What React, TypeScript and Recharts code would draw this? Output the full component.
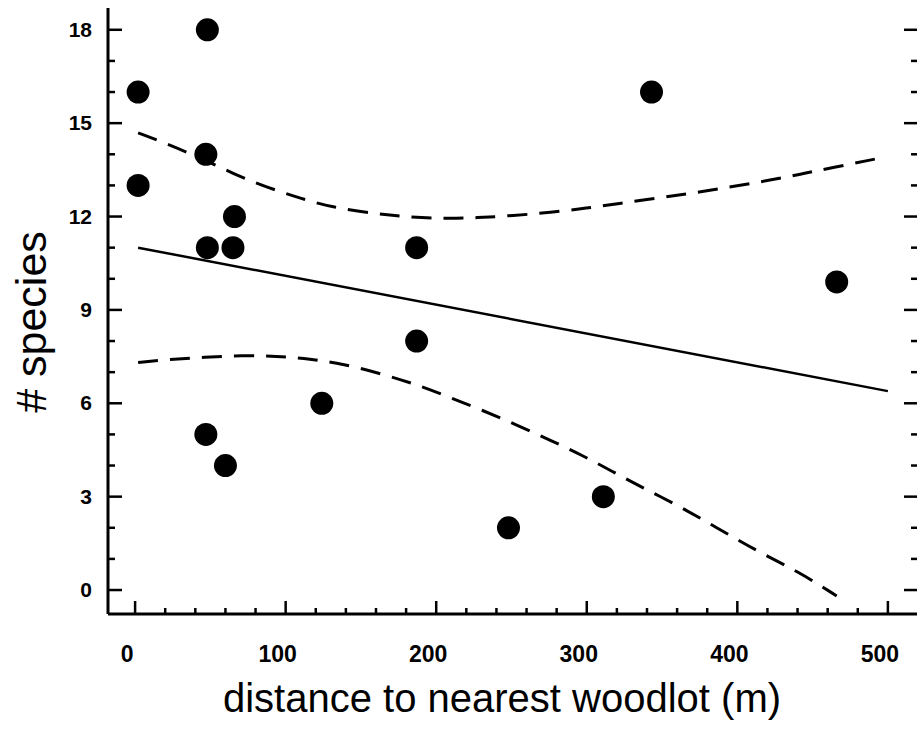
import { ComposedChart, Line, Scatter, XAxis, YAxis, Label } from "recharts";

// observed sites
const distance = [2, 2, 48, 47, 48, 66, 65, 47, 60, 124, 187, 187, 248, 311, 343, 466];
const species = [16, 13, 18, 14, 11, 12, 11, 5, 4, 6, 11, 8, 2, 3, 16, 9.9];

// regression line
const fitX = [2, 500];
const fitY = [11.0, 6.39];

// confidence band
const upperX = [2, 21, 43, 65, 88, 110, 131, 161, 181, 205, 227, 251, 276, 300, 322, 349, 373, 397, 420, 442, 463, 493];
const upperY = [14.69, 14.34, 13.89, 13.38, 12.93, 12.58, 12.29, 12.08, 11.99, 11.93, 11.96, 12.03, 12.13, 12.27, 12.42, 12.61, 12.77, 12.97, 13.15, 13.36, 13.57, 13.86];
const lowerX = [2, 23, 46, 71, 94, 116, 138, 165, 187, 209, 231, 254, 276, 297, 317, 337, 360, 380, 400, 420, 442, 466];
const lowerY = [7.31, 7.41, 7.48, 7.54, 7.51, 7.43, 7.27, 6.93, 6.6, 6.19, 5.77, 5.29, 4.81, 4.33, 3.81, 3.29, 2.73, 2.18, 1.62, 1.08, 0.55, -0.19];

const xTicks = Array.from({ length: 26 }, (_, i) => i * 20);
const yTicks = Array.from({ length: 19 }, (_, i) => i);

const pairs = (xs: number[], ys: number[]) => xs.map((x, i) => ({ x, y: ys[i] }));
const points = pairs(distance, species);
const fit = pairs(fitX, fitY);
const upper = pairs(upperX, upperY);
const lower = pairs(lowerX, lowerY);

const FONT = "'Liberation Sans', Arial, Helvetica, sans-serif";

const isMajorX = (v: number) => v % 100 === 0;
const isMajorY = (v: number) => v % 3 === 0;

const BottomTick = ({ x, y, payload }: any) => {
  const major = isMajorX(payload.value);
  return (
    <g>
      <line x1={x} y1={y} x2={x} y2={y - (major ? 13 : 6)} stroke="#000" strokeWidth={2.5} />
      {major && (
        <text x={x - 8} y={y + 48} textAnchor="middle" fontSize={23} fontWeight="bold" fontFamily={FONT} fill="#000">
          {payload.value}
        </text>
      )}
    </g>
  );
};

const TopTick = ({ x, y, payload }: any) => {
  const major = isMajorX(payload.value);
  return <line x1={x} y1={y} x2={x} y2={y + (major ? 13 : 6)} stroke="#000" strokeWidth={2.5} />;
};

const LeftTick = ({ x, y, payload }: any) => {
  const major = isMajorY(payload.value);
  return (
    <g>
      <line x1={x} y1={y} x2={x + (major ? 14 : 7)} y2={y} stroke="#000" strokeWidth={2.5} />
      {major && (
        <text x={x - 16} y={y + 7} textAnchor="end" fontSize={21} fontWeight="bold" fontFamily={FONT} fill="#000">
          {payload.value}
        </text>
      )}
    </g>
  );
};

// right frame edge sits just outside the picture, only the ticks show
const RightTick = ({ x, y, payload }: any) => {
  const major = isMajorY(payload.value);
  return <line x1={x} y1={y} x2={x - (major ? 14 : 7)} y2={y} stroke="#000" strokeWidth={2.5} />;
};

const XTitle = ({ viewBox }: any) => (
  <text
    x={viewBox.x + viewBox.width / 2 - 11}
    y={viewBox.y + 98}
    textAnchor="middle"
    fontSize={40}
    fontFamily={FONT}
    fill="#000"
  >
    distance to nearest woodlot (m)
  </text>
);

const YTitle = ({ viewBox }: any) => {
  const cx = viewBox.x + 46;
  const cy = viewBox.y + viewBox.height / 2 + 11;
  return (
    <text
      x={cx}
      y={cy}
      transform={`rotate(-90, ${cx}, ${cy})`}
      textAnchor="middle"
      fontSize={43}
      fontFamily={FONT}
      fill="#000"
    >
      # species
    </text>
  );
};

const Dot = ({ cx, cy }: any) => <circle cx={cx} cy={cy} r={11.5} fill="#000" />;

const axisLine = { stroke: "#000", strokeWidth: 3 };

export default function App() {
  return (
    <div style={{ position: "absolute", left: 0, top: 0, width: 917, height: 750, overflow: "hidden", background: "#fff" }}>
      <ComposedChart width={922} height={750} margin={{ top: 8, right: 0, bottom: 0, left: 0 }}>
        <XAxis
          xAxisId="bottom"
          type="number"
          dataKey="x"
          domain={[-18, 520]}
          ticks={xTicks}
          allowDataOverflow
          height={136}
          tickSize={0}
          tickMargin={0}
          tickLine={false}
          axisLine={axisLine}
          tick={<BottomTick />}
          interval={0}
        >
          <Label content={<XTitle />} />
        </XAxis>
        <XAxis
          xAxisId="top"
          orientation="top"
          type="number"
          dataKey="x"
          domain={[-18, 520]}
          ticks={xTicks}
          allowDataOverflow
          height={0}
          tickSize={0}
          tickMargin={0}
          tickLine={false}
          axisLine={axisLine}
          tick={<TopTick />}
          interval={0}
        />
        <YAxis
          yAxisId="left"
          type="number"
          dataKey="y"
          domain={[-0.77, 18.7]}
          ticks={yTicks}
          allowDataOverflow
          width={108}
          tickSize={0}
          tickMargin={0}
          tickLine={false}
          axisLine={axisLine}
          tick={<LeftTick />}
          interval={0}
        >
          <Label content={<YTitle />} />
        </YAxis>
        <YAxis
          yAxisId="right"
          orientation="right"
          type="number"
          dataKey="y"
          domain={[-0.77, 18.7]}
          ticks={yTicks}
          allowDataOverflow
          width={4}
          tickSize={0}
          tickMargin={0}
          tickLine={false}
          axisLine={false}
          tick={<RightTick />}
          interval={0}
        />
        <Line
          xAxisId="bottom"
          yAxisId="left"
          data={upper}
          dataKey="y"
          type="basis"
          stroke="#000"
          strokeWidth={3}
          strokeDasharray="20 12"
          dot={false}
          isAnimationActive={false}
        />
        <Line
          xAxisId="bottom"
          yAxisId="left"
          data={lower}
          dataKey="y"
          type="basis"
          stroke="#000"
          strokeWidth={3}
          strokeDasharray="20 12"
          dot={false}
          isAnimationActive={false}
        />
        <Line
          xAxisId="bottom"
          yAxisId="left"
          data={fit}
          dataKey="y"
          type="linear"
          stroke="#000"
          strokeWidth={2.5}
          dot={false}
          isAnimationActive={false}
        />
        <Scatter
          xAxisId="bottom"
          yAxisId="left"
          data={points}
          dataKey="y"
          shape={<Dot />}
          isAnimationActive={false}
        />
      </ComposedChart>
    </div>
  );
}
